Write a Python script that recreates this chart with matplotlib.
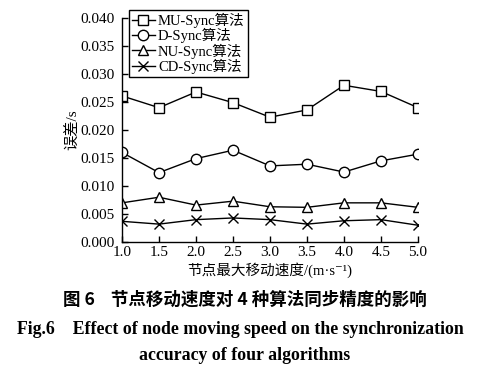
import matplotlib
matplotlib.use("Agg")
import matplotlib.pyplot as plt

plt.rcParams['font.family'] = ['Liberation Serif', 'Noto Sans CJK SC', 'DejaVu Serif']

speed = [1.0, 1.5, 2.0, 2.5, 3.0, 3.5, 4.0, 4.5, 5.0]
mu_sync = [0.0261, 0.0240, 0.0268, 0.0249, 0.0223, 0.0236, 0.0280, 0.0269, 0.0240]
d_sync = [0.0160, 0.0124, 0.0149, 0.0164, 0.0136, 0.0139, 0.0125, 0.0145, 0.0157]
nu_sync = [0.0070, 0.0080, 0.0066, 0.0073, 0.0063, 0.0062, 0.0070, 0.0070, 0.0062]
cd_sync = [0.0037, 0.0032, 0.0040, 0.0043, 0.0040, 0.0032, 0.0038, 0.0040, 0.0030]
yticks = [0.000, 0.005, 0.010, 0.015, 0.020, 0.025, 0.030, 0.035, 0.040]

fig = plt.figure(figsize=(4.9, 3.77), dpi=100)
ax = fig.add_axes([0.249, 0.358, 0.604, 0.594])

kw = dict(color='black', lw=1.0, markersize=7.5, markerfacecolor='white', markeredgewidth=1.0)
ax.plot(speed, mu_sync, marker='s', label='MU-Sync算法', **kw)
ax.plot(speed, d_sync, marker='o', label='D-Sync算法', **kw)
ax.plot(speed, nu_sync, marker='^', label='NU-Sync算法', **kw)
ax.plot(speed, cd_sync, marker='x', label='CD-Sync算法', **kw)

ax.set_xlim(1.0, 5.0)
ax.set_ylim(0, 0.040)
ax.set_xticks(speed)
ax.set_yticks(yticks)
ax.set_yticklabels(['%.3f' % v for v in yticks])
ax.spines['top'].set_visible(False)
ax.spines['right'].set_visible(False)
ax.tick_params(direction='in', labelsize=11, length=4, width=1)
ax.tick_params(axis='y', pad=5)
ax.tick_params(axis='x', pad=3)
for s in ['left', 'bottom']:
    ax.spines[s].set_linewidth(1.0)

ax.set_xlabel('节点最大移动速度/(m·s⁻¹)', fontsize=10.5, labelpad=2)
ax.set_ylabel('误差/s', fontsize=11, labelpad=1)

leg = fig.legend(loc='upper left', bbox_to_anchor=(0.263, 0.973), fontsize=10.5,
                 frameon=True, fancybox=False, edgecolor='black', framealpha=1,
                 handlelength=1.6, handletextpad=0.2, borderpad=0.2,
                 labelspacing=0.0, borderaxespad=0)
leg.get_frame().set_linewidth(1.0)

fig.text(0.5, 0.205, '图 6    节点移动速度对 4 种算法同步精度的影响', ha='center', va='center',
         fontsize=12.6, fontweight='bold', family=['Noto Sans CJK SC'])
fig.text(0.49, 0.127, 'Fig.6    Effect of node moving speed on the synchronization',
         ha='center', va='center', fontsize=12.8, fontweight='bold')
fig.text(0.5, 0.058, 'accuracy of four algorithms', ha='center', va='center',
         fontsize=12.8, fontweight='bold')

fig.savefig('out.png', dpi=100)
